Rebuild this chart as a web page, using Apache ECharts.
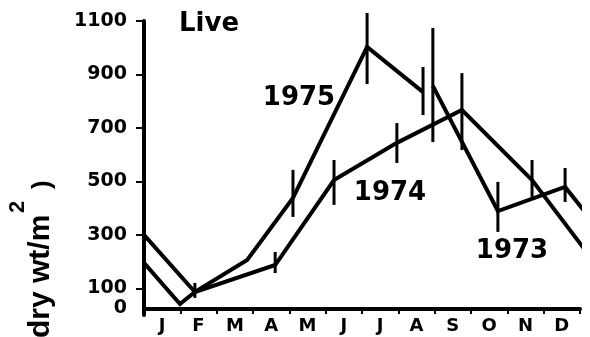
<!DOCTYPE html>
<html>
<head>
<meta charset="utf-8">
<script src="https://cdn.jsdelivr.net/npm/echarts@6/dist/echarts.min.js"></script>
<style>html,body{margin:0;padding:0;background:#fff}#c{width:590px;height:337px}</style>
</head>
<body>
<div id="c"></div>
<script>
// ---- data (months as fractional position along the year, 0 = start of Jan) ----
const months = ['J','F','M','A','M','J','J','A','S','O','N','D'];
const yTickValues = [0, 100, 300, 500, 700, 900, 1100];
const monthCenters = [0.5,1.5,2.5,3.5,4.5,5.5,6.5,7.5,8.5,9.5,10.5,11.5];
const monthBounds = [1,2,3,4,5,6,7,8,9,10,11,12];

const t1975 = [0, 1.40, 2.84, 4.10, 6.14, 7.68];
const v1975 = [300, 86, 206, 438, 1003, 834];

const t1974 = [0, 0.99, 1.40, 3.61, 5.23, 6.96, 8.75, 10.68, 12.14];
const v1974 = [195, 41, 86, 187, 505, 644, 767, 505, 243];

const t1973 = [7.95, 9.74, 11.59, 12.22];
const v1973 = [857, 389, 479, 371];

// error bars: position, low, high
const errT    = [1.40, 4.10, 6.14, 7.68, 3.61, 5.23, 6.96, 8.75, 10.68, 7.95, 9.74, 11.59];
const errLow  = [64,   367,  864,  748,  157,  412,  569,  617,  442,   647,  311,  423];
const errHigh = [120,  543,  1130, 928,  236,  580,  718,  905,  580,   1074, 498,  550];

const pairs = (t, v) => t.map((x, i) => [x, v[i]]);
const errData = errT.map((x, i) => [x, errLow[i], errHigh[i]]);

const numFont = 'DejaVu Sans';
const lineSeries = (name, t, v) => ({
  name, type: 'line', data: pairs(t, v), symbol: 'none', clip: false,
  lineStyle: { color: '#000', width: 4, join: 'miter' }, z: 3
});

const chart = echarts.init(document.getElementById('c'), null, { renderer: 'canvas' });
chart.setOption({
  animation: false,
  backgroundColor: '#fff',
  grid: { left: 144, right: 10, top: 21, bottom: 22, containLabel: false, outerBoundsMode: 'none' },
  xAxis: {
    type: 'value', min: 0, max: 12, offset: -6,
    axisLine: { show: true, lineStyle: { color: '#000', width: 4 } },
    axisTick: { show: true, customValues: monthBounds, length: 5, inside: false, lineStyle: { color: '#000', width: 2 } },
    axisLabel: {
      customValues: monthCenters, margin: 8, hideOverlap: false,
      formatter: v => months[Math.floor(v)],
      color: '#000', fontFamily: numFont, fontWeight: 'bold', fontSize: 18
    },
    splitLine: { show: false }
  },
  yAxis: {
    type: 'value', min: 0, max: 1100,
    axisLine: { show: true, lineStyle: { color: '#000', width: 4 } },
    axisTick: { show: true, customValues: yTickValues.slice(1), length: 8, lineStyle: { color: '#000', width: 2 } },
    axisLabel: {
      customValues: yTickValues, margin: 17, hideOverlap: false, showMinLabel: true,
      formatter: v => v === 0 ? '{z|0}' : String(v),
      color: '#000', fontFamily: numFont, fontWeight: 'bold', fontSize: 19,
      rich: { z: { fontFamily: numFont, fontWeight: 'bold', fontSize: 19, color: '#000', padding: [0, 0, 14, 0] } }
    },
    splitLine: { show: false }
  },
  series: [
    lineSeries('1975', t1975, v1975),
    lineSeries('1974', t1974, v1974),
    lineSeries('1973', t1973, v1973),
    {
      type: 'custom', data: errData, clip: false, z: 4,
      renderItem: (params, api) => {
        const p1 = api.coord([api.value(0), api.value(1)]);
        const p2 = api.coord([api.value(0), api.value(2)]);
        return { type: 'line', shape: { x1: p1[0], y1: p1[1], x2: p2[0], y2: p2[1] },
                 style: { stroke: '#000', lineWidth: 3 } };
      }
    }
  ],
  graphic: [
    { type: 'text', x: 209, y: 24, style: { text: 'Live', fill: '#000', font: 'bold 26px "DejaVu Sans"', align: 'center', verticalAlign: 'middle' } },
    { type: 'text', x: 299, y: 98, style: { text: '1975', fill: '#000', font: 'bold 26px "DejaVu Sans"', align: 'center', verticalAlign: 'middle' } },
    { type: 'text', x: 390, y: 193, style: { text: '1974', fill: '#000', font: 'bold 26px "DejaVu Sans"', align: 'center', verticalAlign: 'middle' } },
    { type: 'text', x: 512, y: 251, style: { text: '1973', fill: '#000', font: 'bold 26px "DejaVu Sans"', align: 'center', verticalAlign: 'middle' } },
    { type: 'text', x: 56, y: 338, rotation: Math.PI / 2, style: { text: 'dry wt/m', fill: '#000', font: 'bold 30px "Liberation Sans"', align: 'left', verticalAlign: 'bottom' } },
    { type: 'text', x: 29, y: 213, rotation: Math.PI / 2, style: { text: '2', fill: '#000', font: 'bold 22px "Liberation Sans"', align: 'left', verticalAlign: 'bottom' } },
    { type: 'text', x: 56, y: 189, rotation: Math.PI / 2, style: { text: ')', fill: '#000', font: 'bold 26px "Liberation Sans"', align: 'left', verticalAlign: 'bottom' } }
  ]
});
</script>
</body>
</html>
